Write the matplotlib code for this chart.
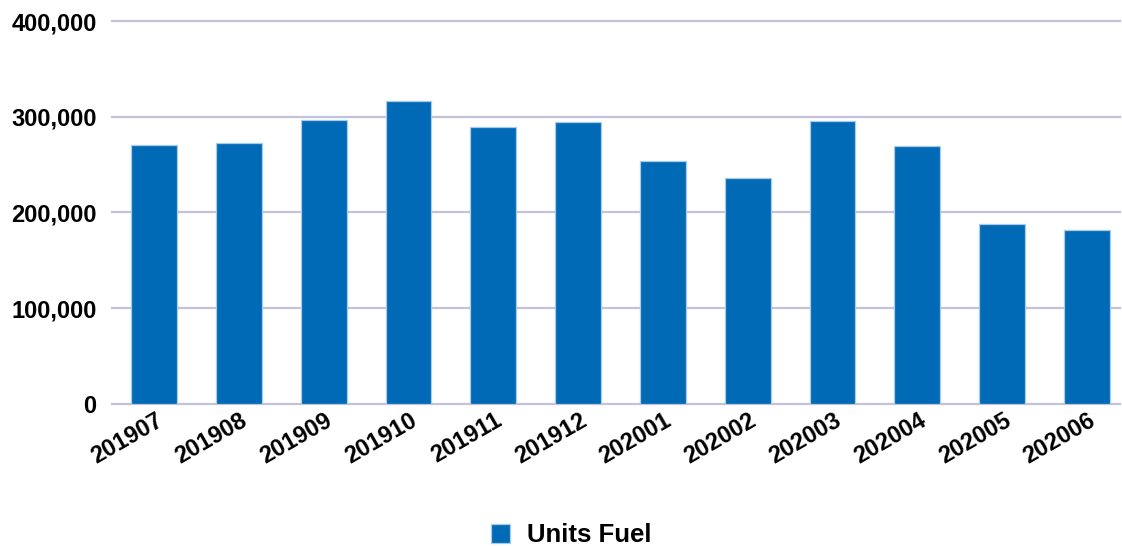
import matplotlib
matplotlib.use("Agg")
import matplotlib.pyplot as plt
import matplotlib.transforms as mtransforms
from matplotlib.ticker import FuncFormatter, MultipleLocator

categories = ["201907", "201908", "201909", "201910", "201911", "201912",
              "202001", "202002", "202003", "202004", "202005", "202006"]
units_fuel = [270500, 272500, 296500, 316000, 289500, 294000,
              254000, 236500, 295500, 269500, 188000, 181500]
series_name = "Units Fuel"

plt.rcParams['font.family'] = ['Liberation Sans', 'DejaVu Sans']

fig = plt.figure(figsize=(11.22, 5.46), dpi=100)
ax = fig.add_axes([112/1122, 1 - 404/546, (1120 - 112)/1122, (404 - 21)/546])

x = list(range(len(categories)))
bars = ax.bar(x, units_fuel, width=0.54, color="#006ab7", edgecolor="#a9cbea",
              linewidth=0.9, label=series_name, zorder=3)

ax.set_xlim(-0.495, 11.39)
ax.set_ylim(0, 400000)
ax.yaxis.set_major_locator(MultipleLocator(100000))
ax.yaxis.set_major_formatter(FuncFormatter(lambda v, p: f"{int(v):,}"))
ax.grid(axis="y", color="#c4c2da", linewidth=1.6, zorder=0)
for gl in ax.get_ygridlines():
    gl.set_clip_on(False)
ax.set_axisbelow(True)
for s in ax.spines.values():
    s.set_visible(False)
ax.tick_params(axis="both", length=0)
ax.tick_params(axis="y", pad=11, labelsize=17)
ax.tick_params(axis="x", pad=3.5, labelsize=17)

ax.set_xticks(x)
ax.set_xticklabels(categories, rotation=30, ha="right", va="top",
                   rotation_mode="anchor", fontweight="bold")
offset = mtransforms.ScaledTranslation(1/100, 0, fig.dpi_scale_trans)
for lbl in ax.get_xticklabels():
    lbl.set_transform(lbl.get_transform() + offset)
for lbl in ax.get_yticklabels():
    lbl.set_fontweight("bold")

leg = fig.legend(handles=[bars], labels=[series_name], loc="lower center",
                 bbox_to_anchor=(0.509, -0.045), frameon=False,
                 prop={"weight": "bold", "size": 18.5},
                 handlelength=0.75, handleheight=0.75, handletextpad=0.66)

fig.savefig("out.png", dpi=100, facecolor="white")
